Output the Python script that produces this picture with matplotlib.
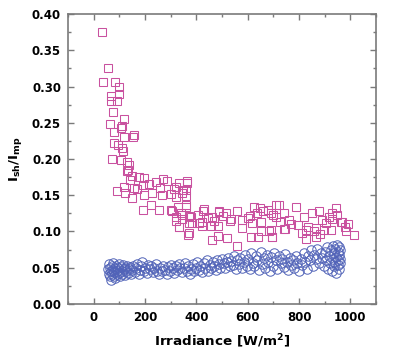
import matplotlib
matplotlib.use("Agg")
import matplotlib.pyplot as plt
from matplotlib.ticker import MultipleLocator

# Ish/Imp ratio, squares (magenta)
sq_irr = [31, 54, 35, 85, 97, 97, 66, 66, 89, 74, 120, 62, 109, 105, 81, 159, 155, 120,
          78, 93, 113, 70, 105, 128, 136, 128, 151, 178, 198, 272, 365,
          89, 120, 124, 151, 159, 194, 198, 229, 244, 268, 303, 322, 334, 345, 361, 365,
          194, 225, 256, 307, 322, 341, 345, 334, 372, 361, 380, 384,
          314, 349, 361, 322, 330, 303, 361, 322, 345, 372, 334, 372, 369,
          407, 431, 462, 489, 516, 536, 423, 458, 485, 485, 462, 520, 560,
          578, 609, 636, 648, 679, 710, 617, 652, 683, 578, 613, 640, 695, 710,
          722, 788, 691, 741, 819, 877, 943, 726, 761, 796, 834, 889, 927, 962,
          691, 745, 826, 865, 896, 923, 982, 1013, 695, 826, 865, 811, 904,
          947, 966, 427, 489, 445, 423, 505, 530, 625, 660, 700, 770, 850, 915, 990,
          600, 740, 880, 560, 410, 470, 930, 980, 860, 650,
          140, 170, 215, 260, 285, 110, 135]
sq_ratio = [0.375, 0.325, 0.306, 0.306, 0.299, 0.290, 0.287, 0.280, 0.280, 0.265, 0.255,
            0.248, 0.245, 0.243, 0.237, 0.233, 0.231, 0.231, 0.222, 0.220, 0.211, 0.200,
            0.199, 0.196, 0.192, 0.183, 0.177, 0.175, 0.174, 0.173, 0.170,
            0.156, 0.161, 0.153, 0.146, 0.160, 0.164, 0.150, 0.153, 0.168, 0.150, 0.152,
            0.161, 0.167, 0.153, 0.157, 0.167,
            0.130, 0.137, 0.130, 0.128, 0.114, 0.125, 0.117, 0.106, 0.098, 0.137, 0.120, 0.112,
            0.159, 0.157, 0.149, 0.148, 0.134, 0.130, 0.134, 0.120, 0.123, 0.121, 0.106,
            0.112, 0.095,
            0.123, 0.131, 0.120, 0.128, 0.125, 0.117, 0.108, 0.108, 0.108, 0.094, 0.088,
            0.091, 0.080,
            0.116, 0.121, 0.125, 0.132, 0.130, 0.137, 0.112, 0.100, 0.100, 0.105, 0.092,
            0.092, 0.092, 0.120,
            0.137, 0.134, 0.126, 0.126, 0.120, 0.128, 0.132, 0.113, 0.116, 0.109, 0.106,
            0.116, 0.117, 0.113,
            0.102, 0.103, 0.102, 0.105, 0.102, 0.102, 0.101, 0.095, 0.092, 0.090, 0.092,
            0.098, 0.112,
            0.123, 0.113, 0.128, 0.127, 0.118, 0.113, 0.122, 0.115, 0.134, 0.128, 0.123,
            0.110, 0.126, 0.120, 0.110,
            0.118, 0.104, 0.097, 0.128, 0.112, 0.115, 0.125, 0.106, 0.100, 0.113,
            0.171, 0.158, 0.165, 0.160, 0.170, 0.215, 0.185]

# Ish/Imp ratio, circles (blue)
ci_irr = [55, 58, 60, 62, 64, 66, 68, 70, 72, 74, 76, 78, 80, 82, 85, 87, 90, 92, 95, 98,
          100, 103, 106, 109, 112, 115, 118, 121, 124, 127, 130, 134, 138, 142, 146, 150,
          155, 160, 165, 170, 175, 180, 186, 190, 195, 200, 206, 212, 218, 224, 230, 236,
          242, 248, 254, 260, 266, 272, 278, 284, 290, 296, 302, 308, 314, 320, 326, 332,
          338, 344, 350,
          356, 362, 368, 374, 380, 386, 392, 398, 404, 410, 416, 422, 428, 434, 440, 446,
          452, 458,
          464, 470, 476, 482, 488, 494, 500, 506, 512, 518, 524, 530, 536, 542, 548, 554,
          560, 566, 572, 578, 584, 590, 596,
          602, 608, 614, 620, 626, 632, 638, 644, 650, 656, 662, 668, 674, 680, 686, 692,
          698, 704, 710, 716, 722, 728, 734, 740, 746, 752, 758, 764, 770, 776, 782, 788,
          794, 800,
          806, 812, 818, 824, 830, 836, 842, 848, 854, 860, 866, 872, 878, 884, 890, 896, 902,
          906, 910, 914, 918, 922, 925, 928, 931, 934, 936, 938, 940, 942, 944, 946, 948,
          950, 952, 953, 955, 956, 957, 958, 959, 960]
ci_ratio = [0.048, 0.042, 0.055, 0.038, 0.050, 0.045, 0.033, 0.052, 0.041, 0.047, 0.056,
            0.039, 0.044, 0.050, 0.036, 0.053, 0.046, 0.041, 0.049, 0.055, 0.043, 0.038,
            0.051, 0.046, 0.042, 0.054, 0.048, 0.040, 0.050, 0.045, 0.053, 0.043, 0.048,
            0.051, 0.041, 0.047,
            0.053, 0.044, 0.049, 0.055, 0.042, 0.047, 0.052, 0.058, 0.045, 0.050, 0.043,
            0.054, 0.048, 0.052, 0.044, 0.049, 0.055, 0.046, 0.041, 0.050, 0.045, 0.053,
            0.047, 0.042, 0.051, 0.046, 0.054, 0.049, 0.043, 0.052, 0.047, 0.055, 0.050,
            0.044, 0.049,
            0.056, 0.046, 0.052, 0.042, 0.048, 0.055, 0.045, 0.050, 0.058, 0.047, 0.053,
            0.044, 0.056, 0.050, 0.060, 0.046, 0.054, 0.049,
            0.058, 0.052, 0.047, 0.061, 0.055, 0.050, 0.062, 0.056, 0.049, 0.058, 0.064,
            0.052, 0.059, 0.054, 0.066, 0.048, 0.060, 0.055, 0.063, 0.050, 0.058, 0.068,
            0.053,
            0.062, 0.048, 0.070, 0.057, 0.052, 0.066, 0.060, 0.047, 0.072, 0.055, 0.063,
            0.050, 0.068, 0.058, 0.045, 0.065, 0.053, 0.070, 0.060, 0.048, 0.066, 0.056,
            0.062, 0.051, 0.069, 0.058, 0.047, 0.064, 0.054, 0.060, 0.050, 0.066, 0.056,
            0.046,
            0.062, 0.054, 0.070, 0.058, 0.048, 0.066, 0.060, 0.074, 0.053, 0.068, 0.062,
            0.076, 0.057, 0.070, 0.064, 0.052, 0.072,
            0.060, 0.078, 0.048, 0.066, 0.056, 0.074, 0.045, 0.062, 0.080, 0.052, 0.070,
            0.058, 0.076, 0.043, 0.065, 0.082, 0.054, 0.072, 0.060, 0.078, 0.048, 0.067,
            0.056, 0.074, 0.062]

plt.rcParams['font.family'] = ['DejaVu Sans']
plt.rcParams['mathtext.default'] = 'bf'

fig = plt.figure(figsize=(4.0, 3.61), dpi=100)
ax = fig.add_axes([0.17, 0.158, 0.77, 0.803])

ax.plot(sq_irr, sq_ratio, linestyle='none', marker='s', markersize=6,
        mfc='none', mec='#C9519F', mew=0.75)
ax.plot(ci_irr, ci_ratio, linestyle='none', marker='o', markersize=6.8,
        mfc='none', mec='#5163B8', mew=0.7)

ax.set_xlim(-100, 1100)
ax.set_ylim(0, 0.4)
ax.xaxis.set_major_locator(MultipleLocator(200))
ax.xaxis.set_minor_locator(MultipleLocator(100))
ax.yaxis.set_major_locator(MultipleLocator(0.05))
ax.yaxis.set_minor_locator(MultipleLocator(0.025))
ax.yaxis.set_major_formatter(matplotlib.ticker.FormatStrFormatter('%.2f'))

grey = '#7a7a7a'
for s in ax.spines.values():
    s.set_color(grey)
    s.set_linewidth(1.2)
ax.tick_params(which='both', direction='in', top=True, right=True, color=grey, width=1.0)
ax.tick_params(which='major', length=4, pad=5)
ax.tick_params(which='minor', length=2.5)
for lab in ax.get_xticklabels() + ax.get_yticklabels():
    lab.set_fontweight('bold')
    lab.set_fontsize(8.5)

ax.set_xlabel('Irradiance [W/m$^2$]', fontsize=9.7, fontweight='bold', labelpad=6)
ax.set_ylabel('$I_{sh}/I_{mp}$', fontsize=9.7, labelpad=6)

fig.savefig('out.png', dpi=100)
